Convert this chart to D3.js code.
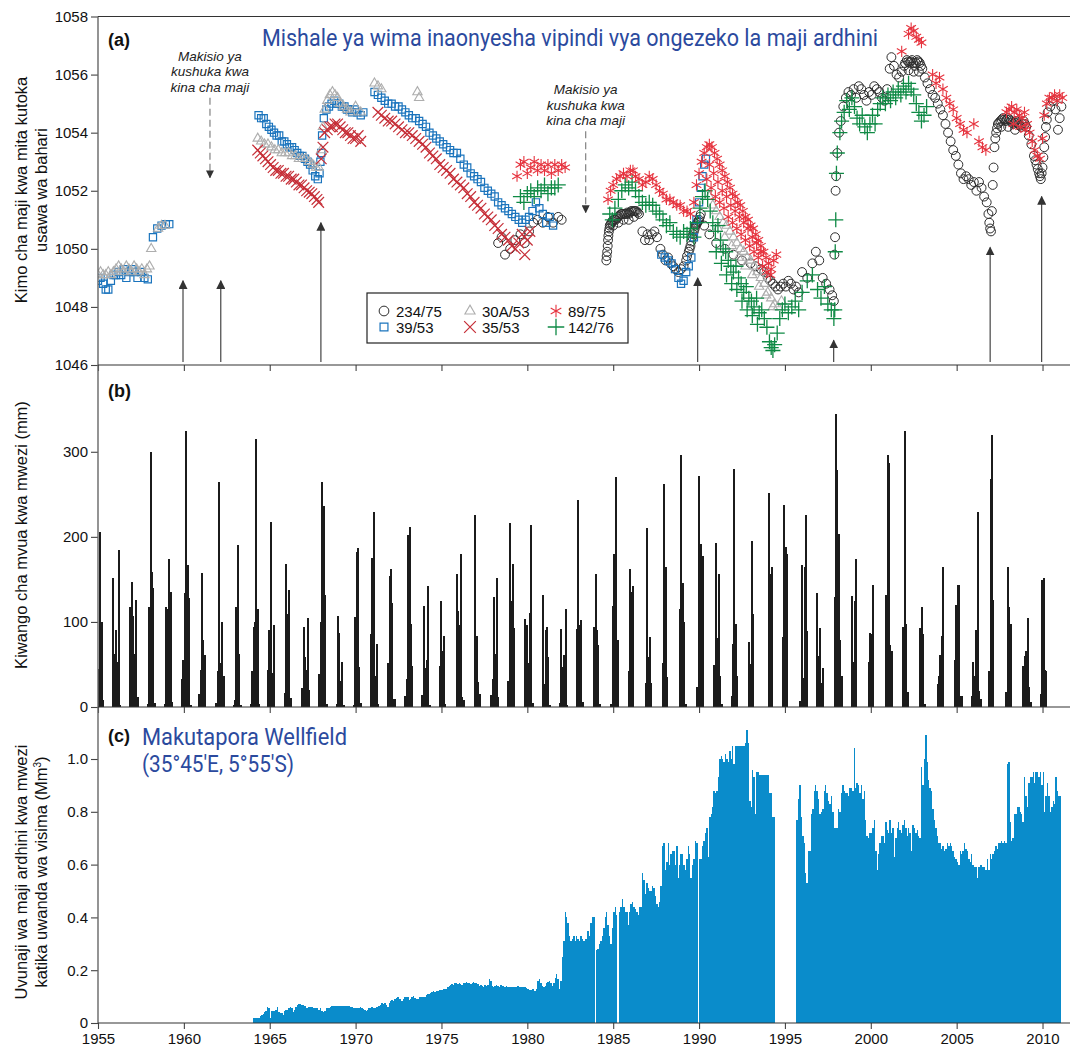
<!DOCTYPE html>
<html>
<head>
<meta charset="utf-8">
<script src="https://cdn.jsdelivr.net/npm/d3@7"></script>
<style>
  body { margin: 0; background: #fff; }
  svg text { font-family: "Liberation Sans", Arial, sans-serif; }
</style>
</head>
<body>
<div id="chart"></div>
<script>
// ---- data ----
const yearTicks = [1955, 1960, 1965, 1970, 1975, 1980, 1985, 1990, 1995, 2000, 2005, 2010];
const levelTicks = [1046, 1048, 1050, 1052, 1054, 1056, 1058];
const rainTicks = [0, 100, 200, 300];
const abstractionTicks = [0, 0.2, 0.4, 0.6, 0.8, 1.0];

// groundwater levels (m asl), [year, level]
const well234 = [[1978.3,1050.2],[1978.5,1050.4],[1978.7,1049.8],[1979.0,1050.0],[1979.3,1050.3],[1979.6,1050.5],[1979.85,1050.2],[1980.1,1050.6],[1980.35,1050.9],[1980.6,1051.0],[1980.9,1050.9],[1981.2,1051.1],[1981.5,1050.9],[1981.8,1051.1],[1982.0,1051.0],
  [1984.6,1049.6],[1984.65,1049.9],[1984.7,1050.3],[1984.75,1050.6],[1984.8,1050.8],[1984.9,1050.9],[1985.0,1051.0],[1985.15,1051.0],[1985.3,1051.1],[1985.45,1051.2],[1985.6,1051.2],[1985.75,1051.2],[1985.9,1051.2],[1986.05,1051.3],[1986.2,1051.3],[1986.35,1051.3],[1986.5,1051.2],
  [1984.62,1049.75],[1984.68,1050.1],[1984.72,1050.45],[1984.78,1050.7],[1984.85,1050.85],[1984.95,1050.95],[1985.07,1051.0],[1985.22,1051.05],[1985.37,1051.15],[1985.52,1051.2],[1985.67,1051.2],[1985.82,1051.25],[1985.97,1051.25],[1986.12,1051.3],[1986.27,1051.3],[1986.42,1051.25],[1985.0,1050.8],[1985.3,1050.9],[1985.6,1051.0],[1985.9,1051.0],[1986.2,1051.1],
  [1986.7,1050.6],[1986.85,1050.3],[1987.0,1050.5],[1987.1,1050.3],[1987.25,1050.5],[1987.4,1050.6],[1987.55,1050.4],[1987.75,1050.0],[1987.9,1049.8],[1988.05,1049.6],[1988.2,1049.7],[1988.35,1049.5],[1988.5,1049.4],[1988.65,1049.3],[1988.8,1049.2],[1988.95,1049.3],[1989.1,1049.4],[1989.25,1049.6],[1989.4,1049.9],[1989.5,1050.1],[1989.6,1050.4],[1989.7,1050.6],[1989.8,1050.8],[1989.9,1050.9],[1990.0,1051.0],[1990.1,1051.2],
  [1989.3,1049.75],[1989.45,1050.0],[1989.55,1050.25],[1989.65,1050.5],[1989.75,1050.7],[1989.85,1050.85],[1989.95,1050.95],[1990.05,1051.1],
  [1990.3,1050.8],[1990.6,1050.5],[1991.0,1050.2],[1991.5,1050.0],[1992.0,1049.8],[1992.5,1049.6],[1993.0,1049.5],[1993.3,1049.4],
  [1993.6,1049.3],[1993.8,1049.2],[1994.0,1049.0],[1994.15,1048.9],[1994.3,1048.8],[1994.45,1048.7],[1994.6,1048.6],[1994.75,1048.7],[1994.9,1048.8],[1995.05,1048.7],[1995.2,1048.9],[1995.35,1048.8],[1995.5,1048.6],[1995.65,1048.7],[1995.8,1048.5],[1996.0,1049.2],[1996.3,1049.0],[1996.6,1049.5],[1996.8,1049.9],[1997.0,1049.6],[1997.2,1049.0],[1997.4,1048.8],[1997.6,1048.6],[1997.75,1048.4],[1997.85,1048.2],[1997.88,1049.8],[1997.92,1050.4],[1997.95,1052.0],[1997.98,1052.5],[1998.05,1053.3],[1998.15,1054.0],[1998.25,1054.4],[1998.4,1054.9],[1998.55,1055.2],[1998.7,1055.4],[1998.85,1055.3],[1999.0,1055.5],[1999.15,1055.2],[1999.3,1055.6],[1999.45,1055.5],[1999.6,1055.3],[1999.75,1055.1],[1999.9,1055.4],[2000.05,1055.3],[2000.2,1055.6],[2000.35,1055.5],[2000.5,1055.4],[2000.65,1055.2],[2000.8,1055.1],[2000.95,1055.5],[2001.1,1056.2],[2001.2,1056.6],[2001.35,1056.3],[2001.5,1056.0],[2001.65,1055.9],[2001.8,1056.1],[2001.95,1056.3],[2002.1,1056.5],[2002.25,1056.4],[2002.4,1056.5],[2002.55,1056.3],[2002.7,1056.5],[2002.85,1056.4],[2003.0,1056.2],
  [2002.0,1056.4],[2002.18,1056.45],[2002.32,1056.45],[2002.48,1056.4],[2002.62,1056.4],[2002.78,1056.45],[2002.92,1056.3],[2002.2,1056.15],[2002.5,1056.1],[2002.8,1056.1],
  [2003.15,1055.9],[2003.3,1055.7],[2003.45,1055.5],[2003.6,1055.3],[2003.75,1055.2],[2003.9,1055.0],[2004.05,1054.8],[2004.2,1054.6],[2004.35,1054.3],[2004.5,1054.0],[2004.65,1053.7],[2004.8,1053.4],[2004.95,1053.2],[2005.1,1052.9],[2005.25,1052.6],[2005.4,1052.4],[2005.55,1052.5],[2005.7,1052.4],[2005.85,1052.2],[2006.0,1052.3],[2006.15,1052.0],[2006.3,1052.3],[2006.45,1052.1],[2006.6,1051.8],[2006.75,1051.6],[2006.85,1051.2],[2006.9,1050.9],[2006.95,1050.7],[2007.0,1050.6],[2007.05,1051.3],[2007.1,1052.2],[2007.15,1052.8],[2007.2,1053.5],[2007.3,1054.0],[2007.4,1054.3],[2007.55,1054.4],[2007.7,1054.5],[2007.85,1054.4],[2008.0,1054.5],[2008.15,1054.4],[2008.3,1054.3],[2008.45,1054.4],[2008.6,1054.3],[2008.75,1054.2],[2008.9,1054.4],
  [2007.25,1053.8],[2007.35,1054.15],[2007.47,1054.35],[2007.62,1054.45],[2007.78,1054.45],[2007.92,1054.45],[2008.08,1054.45],[2008.22,1054.35],[2008.38,1054.35],[2008.52,1054.35],[2008.68,1054.25],[2008.82,1054.3],[2008.97,1054.3],[2007.6,1054.2],[2008.0,1054.2],[2008.4,1054.1],
  [2009.05,1054.2],[2009.2,1053.9],[2009.35,1053.6],[2009.5,1053.2],[2009.65,1052.9],[2009.8,1052.6],[2009.9,1052.4],[2010.0,1052.8],[2010.1,1053.5],[2010.2,1054.2],[2010.3,1054.7],[2010.45,1054.9],[2010.6,1055.1],[2010.75,1054.8],[2010.9,1054.1],[2011.0,1054.5],[2011.1,1054.9],
  [2009.58,1053.05],[2009.72,1052.75],[2009.85,1052.5],[2009.95,1052.6],[2010.05,1053.15],[2010.15,1053.85],[2010.25,1054.45]];

const well39 = [[1955.0,1048.9],[1955.15,1049.0],[1955.3,1048.8],[1955.45,1048.6],[1955.6,1048.6],[1955.75,1048.9],[1955.9,1049.1],[1956.05,1049.1],[1956.2,1049.2],[1956.35,1049.1],[1956.5,1049.3],[1956.65,1049.0],[1956.8,1049.2],[1957.0,1049.3],[1957.15,1049.2],[1957.3,1049.0],[1957.5,1049.2],[1957.7,1049.0],[1957.9,1048.95],[1958.2,1050.4],[1958.45,1050.7],[1958.7,1050.8],[1958.95,1050.85],[1959.15,1050.85],
  [1964.35,1054.6],[1964.5,1054.5],[1964.65,1054.5],[1964.8,1054.3],[1964.95,1054.2],[1965.1,1054.1],[1965.25,1054.0],[1965.4,1053.9],[1965.55,1053.9],[1965.7,1053.7],[1965.85,1053.7],[1966.0,1053.6],[1966.15,1053.5],[1966.3,1053.5],[1966.45,1053.4],[1966.6,1053.3],[1966.75,1053.2],[1966.9,1053.2],[1967.05,1053.1],[1967.2,1053.0],[1967.35,1052.9],[1967.5,1052.7],[1967.65,1052.5],[1967.8,1052.4],[1967.9,1052.6],[1967.95,1053.0],[1968.0,1053.3],[1968.05,1053.9],[1968.15,1054.5],[1968.3,1054.8],[1968.45,1054.9],[1968.6,1055.0],[1968.75,1055.1],[1968.9,1055.0],[1969.05,1055.0],[1969.2,1054.9],[1969.35,1054.9],[1969.5,1054.8],[1969.65,1054.8],[1969.8,1054.7],[1969.95,1054.8],[1970.1,1054.7],[1970.3,1054.6],[1970.45,1054.7],
  [1971.1,1055.4],[1971.3,1055.3],[1971.5,1055.2],[1971.7,1055.1],[1971.9,1055.0],[1972.1,1055.0],[1972.3,1054.9],[1972.5,1054.9],[1972.7,1054.8],[1972.9,1054.7],[1973.1,1054.6],[1973.3,1054.5],[1973.5,1054.5],[1973.7,1054.4],[1973.9,1054.3],[1974.1,1054.2],[1974.3,1054.0],[1974.5,1053.9],[1974.7,1053.8],[1974.9,1053.7],[1975.1,1053.6],[1975.3,1053.5],[1975.5,1053.4],[1975.7,1053.3],[1975.9,1053.3],[1976.1,1053.1],[1976.3,1052.9],[1976.5,1052.8],[1976.7,1052.6],[1976.9,1052.5],[1977.1,1052.4],[1977.3,1052.3],[1977.5,1052.1],[1977.7,1052.0],[1977.9,1051.9],[1978.1,1051.8],[1978.3,1051.6],[1978.5,1051.5],[1978.7,1051.4],[1978.9,1051.3],[1979.1,1051.2],[1979.3,1051.1],[1979.5,1051.0],[1979.7,1050.9],[1979.9,1051.0],[1980.1,1051.1],[1980.3,1051.3],[1980.5,1051.6],[1980.7,1051.4],[1980.9,1051.2],[1981.1,1050.9],[1981.3,1051.1],[1981.5,1050.8],
  [1987.8,1049.8],[1988.0,1049.7],[1988.2,1049.6],[1988.4,1049.5],[1988.6,1049.3],[1988.8,1049.0],[1988.95,1048.8],[1989.1,1048.9],[1989.25,1049.2],[1989.4,1049.4],[1989.55,1049.7],[1989.7,1050.4],[1989.85,1051.0],[1990.0,1051.6],[1990.1,1052.1],[1990.2,1052.5],[1990.3,1052.9],[1990.4,1053.1]];

const well30A = [[1955.0,1049.1],[1955.15,1049.2],[1955.3,1049.1],[1955.45,1049.1],[1955.6,1049.2],[1955.75,1049.1],[1955.9,1049.2],[1956.05,1049.3],[1956.2,1049.4],[1956.35,1049.3],[1956.5,1049.2],[1956.65,1049.4],[1956.8,1049.3],[1956.95,1049.2],[1957.1,1049.4],[1957.25,1049.3],[1957.4,1049.2],[1957.55,1049.3],[1957.7,1049.1],[1957.85,1049.3],[1958.0,1049.4],[1958.1,1050.0],[1958.5,1050.7],[1958.7,1050.8],[1958.9,1050.8],
  [1964.3,1053.8],[1964.5,1053.7],[1964.7,1053.6],[1964.9,1053.6],[1965.1,1053.5],[1965.3,1053.4],[1965.5,1053.4],[1965.7,1053.3],[1965.9,1053.3],[1966.1,1053.3],[1966.3,1053.2],[1966.5,1053.2],[1966.7,1053.1],[1966.9,1053.1],[1967.1,1053.1],[1967.3,1053.0],[1967.5,1052.9],[1967.7,1052.8],[1967.85,1052.8],[1968.0,1053.4],[1968.1,1054.2],[1968.2,1054.8],[1968.35,1055.1],[1968.5,1055.3],[1968.65,1055.4],[1968.8,1055.3],[1968.95,1055.2],[1969.1,1055.0],[1969.3,1054.9],[1969.5,1054.8],[1969.7,1054.7],[1970.0,1054.9],[1970.3,1054.7],
  [1971.1,1055.7],[1971.3,1055.6],[1971.5,1055.5],[1973.6,1055.4],[1973.7,1055.2],
  [1990.6,1051.8],[1990.8,1051.5],[1991.0,1051.3],[1991.2,1051.1],[1991.4,1050.9],[1991.6,1050.8],[1991.8,1050.6],[1992.0,1050.4],[1992.2,1050.2],[1992.4,1050.0],[1992.6,1049.9],[1992.8,1049.7],[1993.0,1049.6],[1993.2,1049.4],[1993.4,1049.2],[1993.6,1049.0],[1993.8,1048.8],[1994.0,1048.5],[1994.2,1048.3],[1994.4,1048.1],[1994.6,1048.0],[1994.8,1048.2],
  [1991.1,1050.7],[1991.5,1050.4],[1991.9,1050.1],[1992.3,1049.7],[1992.7,1049.4],[1993.1,1049.1],[1993.5,1048.7],[1993.9,1048.4],[1994.3,1048.0]];

const well35 = [[1964.3,1053.4],[1964.45,1053.3],[1964.6,1053.2],[1964.75,1053.1],[1964.9,1053.0],[1965.05,1052.9],[1965.2,1052.8],[1965.35,1052.7],[1965.5,1052.7],[1965.65,1052.6],[1965.8,1052.6],[1965.95,1052.5],[1966.1,1052.5],[1966.25,1052.4],[1966.4,1052.4],[1966.55,1052.3],[1966.7,1052.2],[1966.85,1052.2],[1967.0,1052.1],[1967.15,1052.0],[1967.3,1051.95],[1967.45,1051.9],[1967.6,1051.8],[1967.75,1051.7],[1967.85,1051.6],[1968.0,1053.1],[1968.1,1053.5],[1968.2,1054.0],[1968.35,1054.1],[1968.5,1054.2],[1968.65,1054.2],[1968.8,1054.3],[1968.95,1054.3],[1969.1,1054.2],[1969.25,1054.1],[1969.4,1054.0],[1969.55,1054.0],[1969.7,1053.9],[1969.85,1053.8],[1970.0,1053.8],[1970.15,1053.9],[1970.3,1053.7],
  [1971.3,1054.7],[1971.5,1054.6],[1971.7,1054.5],[1971.9,1054.4],[1972.1,1054.4],[1972.3,1054.3],[1972.5,1054.2],[1972.7,1054.1],[1972.9,1054.0],[1973.1,1054.0],[1973.3,1053.9],[1973.5,1053.8],[1973.7,1053.7],[1973.9,1053.6],[1974.1,1053.5],[1974.3,1053.3],[1974.5,1053.2],[1974.7,1053.1],[1974.9,1052.9],[1975.1,1052.8],[1975.3,1052.7],[1975.5,1052.6],[1975.7,1052.4],[1975.9,1052.3],[1976.1,1052.2],[1976.3,1052.1],[1976.5,1051.9],[1976.7,1051.8],[1976.9,1051.6],[1977.1,1051.5],[1977.3,1051.4],[1977.5,1051.2],[1977.7,1051.1],[1977.9,1051.0],[1978.1,1050.8],[1978.3,1050.7],[1978.5,1050.5],[1978.7,1050.4],[1978.9,1050.3],[1979.1,1050.1],[1979.3,1050.0],[1979.5,1050.2],[1979.7,1050.5],[1979.85,1049.8],[1980.0,1050.3],[1980.15,1050.6]];

const well89 = [[1979.4,1052.5],[1979.6,1052.9],[1979.8,1053.0],[1980.0,1052.6],[1980.2,1052.8],[1980.4,1053.0],[1980.6,1052.7],[1980.8,1052.9],[1981.0,1052.7],[1981.2,1052.9],[1981.4,1052.6],[1981.6,1052.9],[1981.8,1052.7],[1982.0,1052.9],[1982.2,1052.8],
  [1984.7,1051.7],[1984.85,1052.0],[1985.0,1052.2],[1985.2,1052.4],[1985.4,1052.5],[1985.6,1052.6],[1985.8,1052.5],[1986.0,1052.7],[1986.15,1052.7],[1986.3,1052.5],[1986.5,1052.4],[1986.7,1052.2],[1986.9,1052.3],[1987.1,1052.5],[1987.3,1052.4],[1987.5,1052.2],[1987.7,1052.0],[1987.9,1051.9],[1988.1,1051.7],[1988.3,1051.7],[1988.5,1051.6],[1988.7,1051.5],[1988.9,1051.5],[1989.1,1051.3],[1989.3,1051.3],[1989.5,1051.2],[1989.7,1051.6],[1989.85,1052.2],[1990.0,1052.6],[1990.15,1053.0],[1990.3,1053.3],[1990.45,1053.5],[1990.6,1053.6],[1990.75,1053.5],[1990.9,1053.3],[1991.05,1053.1],[1991.2,1052.9],[1991.35,1052.7],[1991.5,1052.5],[1991.65,1052.3],[1991.8,1052.1],[1991.95,1051.9],[1992.1,1051.8],[1992.25,1051.6],[1992.4,1051.5],[1992.55,1051.3],[1992.7,1051.1],[1992.85,1051.0],[1993.0,1050.8],[1993.15,1050.7],[1993.3,1050.5],[1993.45,1050.3],[1993.6,1050.1],[1993.75,1049.9],[1993.9,1049.7],[1994.05,1049.5],[1994.2,1049.3],[1994.35,1049.6],[1994.5,1049.8],
  [1990.6,1052.9],[1990.85,1052.6],[1991.1,1052.3],[1991.35,1052.0],[1991.6,1051.8],[1991.85,1051.5],[1992.1,1051.3],[1992.35,1051.1],[1992.6,1050.9],[1992.85,1050.7],[1993.1,1050.4],[1993.35,1050.2],[1993.6,1049.9],
  [1990.45,1052.4],[1990.7,1052.1],[1990.95,1051.8],[1991.2,1051.6],[1991.45,1051.4],[1991.7,1051.1],[1991.95,1050.9],[1992.2,1050.7],[1992.45,1050.5],[1992.7,1050.3],[1992.95,1050.1],[1993.2,1049.9],[1993.45,1049.7],[1993.7,1049.4],[1993.95,1049.2],[1994.15,1049.1],
  [2001.8,1056.8],[2002.2,1057.4],[2002.35,1057.6],[2002.5,1057.5],[2002.65,1057.3],[2002.8,1057.2],[2002.95,1057.1],
  [2003.6,1056.0],[2003.8,1055.7],[2004.0,1055.9],[2004.2,1055.5],[2004.4,1055.2],[2004.6,1055.0],[2004.8,1054.8],[2005.0,1054.5],[2005.2,1054.3],[2005.4,1054.1],[2005.6,1054.0],[2006.0,1054.3],[2006.3,1053.7],[2006.5,1053.5],[2006.7,1053.4],
  [2007.9,1054.7],[2008.05,1054.8],[2008.2,1054.9],[2008.3,1054.3],[2008.35,1054.7],[2008.5,1054.8],[2008.65,1054.6],[2008.7,1054.2],[2008.8,1054.5],[2008.95,1054.7],[2009.0,1054.1],[2009.1,1054.3],[2009.25,1054.0],[2009.4,1053.7],[2009.55,1053.4],[2009.7,1053.2],[2009.85,1053.1],[2010.0,1053.8],[2010.1,1054.6],[2010.25,1055.0],[2010.4,1055.2],[2010.55,1055.2],[2010.7,1055.3],[2010.85,1055.1],[2011.0,1055.3],[2011.15,1055.2]];

const well142 = [[1979.6,1051.8],[1979.8,1051.6],[1980.0,1051.9],[1980.2,1052.0],[1980.4,1051.8],[1980.6,1052.1],[1980.8,1052.0],[1981.0,1052.2],[1981.2,1051.9],[1981.4,1052.1],[1981.6,1052.1],[1981.8,1052.2],
  [1984.8,1051.2],[1984.95,1051.0],[1985.1,1051.4],[1985.3,1051.7],[1985.5,1052.0],[1985.7,1052.2],[1985.9,1052.1],[1986.1,1052.3],[1986.3,1052.0],[1986.5,1051.8],[1986.7,1051.6],[1986.9,1051.5],[1987.1,1051.6],[1987.3,1051.5],[1987.5,1051.3],[1987.7,1051.2],[1987.9,1051.0],[1988.1,1050.8],[1988.3,1050.9],[1988.5,1050.6],[1988.7,1050.5],[1988.9,1050.4],[1989.1,1050.6],[1989.3,1050.5],[1989.5,1050.7],[1989.7,1050.4],[1989.9,1050.9],[1990.05,1051.4],[1990.2,1051.8],[1990.35,1052.0],[1990.5,1051.7],[1990.65,1051.3],[1990.8,1050.9],[1990.95,1050.6],[1991.1,1050.8],[1991.25,1050.3],[1991.4,1050.0],[1991.55,1049.9],[1991.7,1049.6],[1991.85,1049.4],[1992.0,1049.2],[1992.15,1049.4],[1992.3,1049.0],[1992.45,1048.8],[1992.6,1048.5],[1992.75,1048.7],[1992.9,1048.3],[1993.05,1048.2],[1993.2,1048.0],[1993.35,1048.3],[1993.5,1047.8],[1993.65,1047.9],[1993.8,1047.6],[1993.95,1047.3],[1994.1,1046.8],[1994.2,1046.6],[1994.3,1046.5],[1994.4,1046.7],[1994.55,1047.1],[1994.7,1047.6],[1994.85,1047.9],[1995.0,1048.1],[1995.2,1047.8],[1995.4,1048.0],[1995.6,1048.2],[1995.8,1047.9],
  [1991.0,1049.9],[1991.3,1049.5],[1991.6,1049.1],[1991.9,1048.8],[1992.2,1048.6],[1992.5,1048.2],[1992.8,1047.9],[1993.1,1047.7],[1993.4,1047.4],
  [1996.0,1048.5],[1996.3,1048.9],[1996.6,1049.1],[1996.9,1048.6],[1997.1,1048.3],[1997.3,1048.7],[1997.5,1048.1],[1997.7,1047.9],[1997.85,1047.6],[1997.9,1047.9],[1997.93,1049.9],[1997.96,1051.0],[1998.0,1052.6],[1998.05,1053.3],[1998.2,1054.0],[1998.3,1054.4],[1998.45,1054.7],[1998.6,1055.1],[1998.75,1054.8],[1998.9,1055.2],[1999.05,1054.9],[1999.2,1054.5],[1999.35,1054.3],[1999.5,1054.6],[1999.65,1054.2],[1999.8,1054.0],[1999.95,1054.3],[2000.1,1054.6],[2000.25,1054.3],[2000.4,1054.8],[2000.55,1055.0],[2000.7,1055.2],[2000.85,1055.0],[2001.0,1055.3],[2001.15,1055.1],[2001.3,1055.4],[2001.45,1055.2],[2001.6,1055.5],[2001.75,1055.3],[2001.9,1055.6],[2002.05,1055.4],[2002.2,1055.7],[2002.35,1055.5],[2002.5,1055.3],[2002.65,1055.0],[2002.8,1054.7],[2002.95,1054.4],[2003.1,1054.6],[2003.25,1054.9]];

// recharge arrows (solid) and projected decline arrows (dashed)
const rechargeYears = [1959.95, 1962.15, 1967.98, 1989.92, 1997.84, 2006.95, 2009.95];
const rechargeTops = [1048.9, 1048.9, 1050.9, 1049.0, 1046.85, 1050.05, 1051.8];
const declineYears = [1961.52, 1983.4];
const declineFrom = [1055.2, 1054.05];
const declineTo = [1052.45, 1051.25];

// monthly rainfall (mm), one season per year: Nov, Dec (previous year), Jan, Feb, Mar, Apr, May
const rainFirstYear = 1955;
const rainSeasons = [
  [0,0,45,206,100,8], [152,62,90,53,184,2], [118,147,107,62,126,12], [3,118,300,159,140,5],
  [3,118,115,174,135,6], [33,55,134,324,167,128,2], [15,43,158,79,61,0], [5,42,265,52,100,36],
  [2,8,118,190,62,2], [4,42,94,100,315,115,3], [43,91,218,40,96,0], [16,168,109,137,10,0],
  [22,94,59,43,105,20], [39,100,265,236,132,4], [3,107,87,30,53,2], [2,106,182,187,47,5],
  [86,175,229,37,74,4], [52,154,162,122,9,9], [13,33,202,212,98,48], [14,119,46,55,142,2],
  [48,125,66,84,3,0], [156,113,96,180,12,8], [0,226,84,29,15,0], [14,33,129,62,152,12],
  [31,216,125,168,93,0], [103,96,52,110,214,5], [132,27,91,94,59,2], [5,92,47,61,115,2],
  [92,243,96,102,6,0], [94,156,91,73,3,0], [3,119,180,270,59,79], [42,162,135,142,0,0],
  [28,210,59,82,28,0], [52,262,164,35,0,0], [115,296,146,100,3,0], [24,272,115,192,177,0],
  [49,193,81,156,37,3], [13,74,280,98,37,0], [76,50,195,109,0,0], [0,0,251,156,164,0],
  [82,237,188,180,0,0], [7,167,34,165,226,89], [134,60,93,28,46,0], [129,344,278,203,79,37],
  [131,53,125,174,0,0], [53,87,86,143,0,0], [132,296,287,73,66,0], [94,325,98,18,0,0],
  [93,118,86,3,0,0], [27,37,61,83,164,0], [55,120,143,143,13,13], [13,53,37,91,229,19,9],
  [42,268,320,126,0,0], [18,164,118,98,0,0], [48,60,66,105,23,6], [15,149,152,43,42,0]
];

// monthly wellfield abstraction (Mm3), Jan..Dec per year
const abstractionFirstYear = 1964;
const abstraction = [
  [0.02,0.02,0.02,0.02,0.02,0.025,0.03,0.035,0.04,0.045,0.06,0.058],
  [0.02,0.045,0.045,0.045,0.048,0.062,0.04,0.036,0.036,0.03,0.045,0.05],
  [0.05,0.055,0.06,0.055,0.04,0.05,0.06,0.068,0.072,0.072,0.07,0.07],
  [0.065,0.055,0.055,0.06,0.06,0.062,0.058,0.055,0.055,0.058,0.05,0.055],
  [0.045,0.04,0.045,0.055,0.057,0.057,0.062,0.065,0.066,0.066,0.066,0.066],
  [0.066,0.066,0.066,0.066,0.066,0.066,0.066,0.066,0.062,0.06,0.058,0.057],
  [0.057,0.055,0.058,0.06,0.057,0.052,0.048,0.046,0.05,0.055,0.058,0.06],
  [0.058,0.055,0.06,0.062,0.065,0.07,0.074,0.072,0.075,0.07,0.062,0.075],
  [0.085,0.088,0.083,0.09,0.095,0.097,0.092,0.09,0.085,0.09,0.097,0.1],
  [0.097,0.088,0.09,0.1,0.102,0.095,0.09,0.092,0.098,0.1,0.098,0.1],
  [0.1,0.105,0.11,0.108,0.115,0.118,0.12,0.118,0.12,0.122,0.125,0.125],
  [0.125,0.128,0.13,0.128,0.135,0.14,0.145,0.148,0.145,0.15,0.15,0.148],
  [0.15,0.148,0.145,0.15,0.15,0.155,0.152,0.15,0.148,0.152,0.155,0.15],
  [0.15,0.148,0.14,0.145,0.14,0.138,0.145,0.14,0.145,0.165,0.16,0.14],
  [0.135,0.14,0.145,0.14,0.138,0.145,0.142,0.14,0.138,0.14,0.135,0.135],
  [0.135,0.135,0.135,0.135,0.138,0.14,0.135,0.135,0.135,0.135,0.135,0.133],
  [0.13,0.125,0.125,0.13,0.128,0.122,0.128,0.16,0.165,0.15,0.14,0.135],
  [0.14,0.15,0.155,0.16,0.15,0.14,0.15,0.17,0.185,0.165,0.13,0.16],
  [0.25,0.31,0.42,0.40,0.38,0.33,0.31,0.32,0.33,0.31,0.33,0.32],
  [0.31,0.33,0.32,0.31,0.32,0.32,0.35,0.33,0.38,0.40,0.40,null],
  [0.275,0.28,0.3,0.31,0.33,0.36,0.40,0.42,0.37,0.33,0.30,0.36],
  [0.42,0.44,0.41,null,0.42,0.44,0.47,0.44,0.42,0.42,0.37,0.42],
  [0.45,0.46,0.44,0.43,0.42,0.41,0.44,0.44,0.57,0.54,0.49,0.53],
  [0.51,0.50,0.50,0.52,0.51,0.48,0.45,0.44,0.46,0.52,0.67,0.68],
  [0.58,0.61,0.68,0.60,0.64,0.65,0.65,0.60,0.67,0.55,0.60,0.64],
  [0.64,0.60,0.58,0.62,0.67,0.64,0.55,0.60,0.62,0.69,0.68,null],
  [0.62,0.62,0.67,0.69,0.72,0.74,0.63,0.78,0.79,0.82,0.88,0.87],
  [0.88,0.93,1.0,1.01,1.0,0.99,1.02,1.0,0.99,1.03,1.0,1.05],
  [0.98,1.05,1.05,1.05,1.05,1.05,1.05,1.05,1.06,1.11,1.06,0.84],
  [0.82,0.96,0.93,0.79,0.95,0.95,0.94,0.94,0.94,0.94,0.94,0.94],
  [0.94,0.87,0.87,0.78,0.78,null,null,null,null,null,null,null],
  [null,null,null,null,null,null,null,null,0.77,0.85,0.90,0.78],
  [0.71,0.68,0.57,0.53,0.65,0.65,0.79,0.81,0.88,0.90,0.88,0.85],
  [0.79,0.80,0.81,0.88,0.90,0.87,0.84,0.83,0.86,0.80,0.74,0.74],
  [0.74,0.81,0.80,0.87,0.90,0.88,0.87,0.87,0.86,0.89,0.89,0.88],
  [1.04,0.89,0.91,0.90,0.87,0.90,0.85,0.88,0.77,0.71,0.70,0.72],
  [0.72,0.74,0.77,0.65,0.58,0.64,0.68,0.71,0.71,0.68,0.76,0.73],
  [0.72,0.77,0.72,0.74,0.63,0.70,0.74,0.76,0.73,0.72,0.75,0.77],
  [0.74,0.71,0.74,0.72,0.65,0.75,0.74,0.72,0.73,0.71,0.70,0.97],
  [0.90,1.0,1.09,0.99,0.92,0.89,0.88,0.81,0.77,0.74,0.71,0.68],
  [0.68,0.66,0.67,0.65,0.66,0.68,0.67,0.68,0.67,0.65,0.63,0.62],
  [0.61,0.60,0.65,0.64,0.65,0.68,0.66,0.65,0.62,0.61,0.64,0.60],
  [0.59,0.59,0.55,0.59,0.60,0.60,0.59,0.59,0.58,0.62,0.58,0.64],
  [0.62,0.64,0.65,0.67,0.66,0.68,0.68,0.69,0.68,0.69,0.68,0.98],
  [0.99,0.76,0.69,0.70,0.79,0.79,0.82,0.82,0.80,0.79,0.76,0.93],
  [0.86,0.82,0.91,0.93,0.93,0.95,0.91,0.95,0.95,0.93,0.95,0.90],
  [0.95,0.80,0.86,0.91,0.86,0.80,0.82,0.84,0.83,0.93,0.88,0.86],
  [0.86]
];

// ---- layout ----
const W = 1070, H = 1050;
const svg = d3.select('#chart').append('svg')
    .attr('width', W)
    .attr('height', H)
    .style('background', '#fff');

const x = d3.scaleLinear().domain([1955, 2011.6]).range([98, 1070]);
const yA = d3.scaleLinear().domain([1046, 1058]).range([365, 16.5]);
const yB = d3.scaleLinear().domain([0, 402]).range([707, 365]);
const yC = d3.scaleLinear().domain([0, 1.197]).range([1023, 707]);

// ---- panel (c): abstraction bars ----
const absRows = [];
abstraction.forEach((yr, i) => {
    yr.forEach((v, m) => {
        if (v !== null) absRows.push({ t: abstractionFirstYear + i + m / 12, v });
    });
});
svg.append('g')
    .attr('shape-rendering', 'crispEdges')
    .selectAll('rect')
    .data(absRows)
    .enter()
    .append('rect')
    .attr('x', d => Math.round(x(d.t)))
    .attr('width', d => Math.round(x(d.t + 1 / 12)) - Math.round(x(d.t)))
    .attr('y', d => yC(d.v))
    .attr('height', d => yC(0) - yC(d.v))
    .attr('fill', '#0a8ccb');

// ---- panel (b): rainfall bars ----
const rainRows = [];
rainSeasons.forEach((s, i) => {
    s.forEach((v, m) => {
        const t = rainFirstYear + i - 2 / 12 + m / 12;
        if (v > 0 && t >= 1955) rainRows.push({ t, v });
    });
});
svg.append('g')
    .attr('shape-rendering', 'crispEdges')
    .selectAll('rect')
    .data(rainRows)
    .enter()
    .append('rect')
    .attr('x', d => Math.round(x(d.t)))
    .attr('width', 2)
    .attr('y', d => yB(d.v))
    .attr('height', d => yB(0) - yB(d.v))
    .attr('fill', '#1b1b1b');

// ---- panel (a): groundwater levels ----
svg.append('defs').append('clipPath').attr('id', 'clipA')
    .append('rect').attr('x', 98).attr('y', 16).attr('width', 972).attr('height', 349);

const series = [
    { label: '234/75', data: well234, type: d3.symbolCircle, size: 62, color: '#2e2e2e', sw: 1 },
    { label: '39/53', data: well39, type: d3.symbolSquare2, size: 66, color: '#1b74bd', sw: 1.2 },
    { label: '30A/53', data: well30A, type: d3.symbolTriangle2, size: 62, color: '#aeaeae', sw: 1.1 },
    { label: '142/76', data: well142, type: d3.symbolPlus, size: 76, color: '#0f8a45', sw: 1.3 },
    { label: '35/53', data: well35, type: d3.symbolX, size: 76, color: '#c62f38', sw: 1.2 },
    { label: '89/75', data: well89, type: d3.symbolAsterisk, size: 88, color: '#e6333e', sw: 1.1 }
];

const gA = svg.append('g').attr('clip-path', 'url(#clipA)');
series.forEach(s => {
    const sym = d3.symbol().type(s.type).size(s.size);
    gA.append('g')
        .selectAll('path')
        .data(s.data)
        .enter()
        .append('path')
        .attr('d', sym)
        .attr('transform', d => `translate(${x(d[0])},${yA(d[1])})`)
        .attr('fill', 'none')
        .attr('stroke', s.color)
        .attr('stroke-width', s.sw);
});

// recharge arrows
const defs = svg.select('defs');
defs.append('marker')
    .attr('id', 'headSolid')
    .attr('viewBox', '0 -5 10 10')
    .attr('refX', 9).attr('refY', 0)
    .attr('markerUnits', 'userSpaceOnUse')
    .attr('markerWidth', 9).attr('markerHeight', 9)
    .attr('orient', 'auto')
    .append('path').attr('d', 'M 0,-5 L 10,0 L 0,5 Z').attr('fill', '#333');

svg.append('g')
    .selectAll('line')
    .data(rechargeYears)
    .enter()
    .append('line')
    .attr('x1', d => x(d)).attr('x2', d => x(d))
    .attr('y1', yA(1046) - 3)
    .attr('y2', (d, i) => yA(rechargeTops[i]))
    .attr('stroke', '#333')
    .attr('stroke-width', 1.1)
    .attr('marker-end', 'url(#headSolid)');

// projected decline arrows (dashed)
defs.append('marker')
    .attr('id', 'headDash')
    .attr('viewBox', '0 -5 10 10')
    .attr('refX', 9).attr('refY', 0)
    .attr('markerUnits', 'userSpaceOnUse')
    .attr('markerWidth', 8).attr('markerHeight', 8)
    .attr('orient', 'auto')
    .append('path').attr('d', 'M 0,-5 L 10,0 L 0,5 Z').attr('fill', '#333');

const declineLines = ['Makisio ya', 'kushuka kwa', 'kina cha maji'];
declineYears.forEach((yr, i) => {
    svg.append('line')
        .attr('x1', x(yr)).attr('x2', x(yr))
        .attr('y1', yA(declineFrom[i]))
        .attr('y2', yA(declineTo[i]))
        .attr('stroke', '#777')
        .attr('stroke-width', 1.1)
        .attr('stroke-dasharray', '7,4')
        .attr('marker-end', 'url(#headDash)');
    const t = svg.append('text')
        .attr('text-anchor', 'middle')
        .style('font-size', '13.5px')
        .style('font-style', 'italic')
        .style('fill', '#222');
    declineLines.forEach((ln, k) => {
        t.append('tspan')
            .attr('x', x(yr))
            .attr('y', yA(declineFrom[i]) - 37 + k * 15.5)
            .text(ln);
    });
});

// ---- axes ----
const axisColor = '#444';
function styleAxis(g) {
    g.select('.domain').remove();
    g.selectAll('.tick line').attr('stroke', axisColor).attr('stroke-width', 1.1);
    g.selectAll('.tick text').style('font-size', '15px').style('fill', '#111')
        .style('font-family', '"Liberation Sans", Arial, sans-serif');
}

svg.append('g').attr('transform', 'translate(98,0)')
    .call(d3.axisLeft(yA).tickValues(levelTicks).tickSize(7).tickPadding(3).tickFormat(d3.format('d')))
    .call(styleAxis);
svg.append('g').attr('transform', 'translate(98,0)')
    .call(d3.axisLeft(yB).tickValues(rainTicks).tickSize(7).tickPadding(3).tickFormat(d3.format('d')))
    .call(styleAxis);
svg.append('g').attr('transform', 'translate(98,0)')
    .call(d3.axisLeft(yC).tickValues(abstractionTicks).tickSize(7).tickPadding(3)
        .tickFormat(d => d === 0 ? '0' : d3.format('.1f')(d)))
    .call(styleAxis);

[yA(1046), yB(0)].forEach(yy => {
    svg.append('g').attr('transform', `translate(0,${yy})`)
        .call(d3.axisBottom(x).tickValues(yearTicks).tickSize(6).tickFormat(''))
        .call(styleAxis);
});
svg.append('g').attr('transform', `translate(0,${yC(0)})`)
    .call(d3.axisBottom(x).tickValues(yearTicks).tickSize(6).tickPadding(4).tickFormat(d3.format('d')))
    .call(styleAxis);

// frame lines
svg.append('line').attr('x1', 98).attr('x2', 98).attr('y1', yA(1058)).attr('y2', yC(0))
    .attr('stroke', '#666').attr('stroke-width', 1.4);
[yA(1058), yA(1046), yB(0), yC(0)].forEach(yy => {
    svg.append('line').attr('x1', 98).attr('x2', W).attr('y1', yy).attr('y2', yy)
        .attr('stroke', '#333').attr('stroke-width', 1.2);
});

// ---- legend ----
const legend = svg.append('g').attr('transform', 'translate(367,293)');
legend.append('rect').attr('width', 261).attr('height', 50)
    .attr('fill', '#fff').attr('stroke', '#222').attr('stroke-width', 1.2);
const legendOrder = ['234/75', '39/53', '30A/53', '35/53', '89/75', '142/76'];
legendOrder.forEach((lab, i) => {
    const s = series.find(d => d.label === lab);
    const col = Math.floor(i / 2), row = i % 2;
    const gx = 17 + col * 86, gy = 18 + row * 16;
    legend.append('path')
        .attr('d', d3.symbol().type(s.type).size(s.size * 1.2))
        .attr('transform', `translate(${gx},${gy})`)
        .attr('fill', 'none').attr('stroke', s.color).attr('stroke-width', s.sw);
    legend.append('text').attr('x', gx + 12).attr('y', gy + 5.5)
        .style('font-size', '15px').style('fill', '#111').text(lab);
});

// ---- titles and labels ----
const blue = '#2b4a9e';
const narrow = '"Liberation Sans Narrow", "Roboto", sans-serif';
svg.append('text').attr('x', 262).attr('y', 46)
    .attr('textLength', 616).attr('lengthAdjust', 'spacingAndGlyphs')
    .style('font-size', '24px').style('font-family', narrow)
    .style('fill', blue)
    .text('Mishale ya wima inaonyesha vipindi vya ongezeko la maji ardhini');

[['(a)', 46], ['(b)', 397], ['(c)', 742]].forEach(([t, yy]) => {
    svg.append('text').attr('x', 108).attr('y', yy)
        .style('font-size', '18px').style('font-weight', 'bold').style('fill', '#111').text(t);
});

svg.append('text').attr('x', 142).attr('y', 745)
    .attr('textLength', 205).attr('lengthAdjust', 'spacingAndGlyphs')
    .style('font-size', '24px').style('font-family', narrow)
    .style('fill', blue).text('Makutapora Wellfield');
svg.append('text').attr('x', 142).attr('y', 772)
    .attr('textLength', 152).attr('lengthAdjust', 'spacingAndGlyphs')
    .style('font-size', '24px').style('font-family', narrow)
    .style('fill', blue).text('(35°45′E, 5°55′S)');

function yLabel(lines, cy) {
    lines.forEach(([txt, bx]) => {
        const t = svg.append('text')
            .attr('transform', `translate(${bx},${cy}) rotate(-90)`)
            .attr('text-anchor', 'middle')
            .style('font-size', '16.5px')
            .style('fill', '#111');
        if (Array.isArray(txt)) {
            t.append('tspan').text(txt[0]);
            t.append('tspan').attr('dy', -6).style('font-size', '10px').text(txt[1]);
            t.append('tspan').attr('dy', 6).text(txt[2]);
        } else {
            t.text(txt);
        }
    });
}
yLabel([['Kimo cha maji kwa mita kutoka', 27], ['usawa wa bahari', 47]], 190);
yLabel([['Kiwango cha mvua kwa mwezi (mm)', 27]], 535);
yLabel([['Uvunaji wa maji ardhini kwa mwezi', 27], [['katika uwanda wa visima (Mm', '3', ')'], 47]], 872);
</script>
</body>
</html>
